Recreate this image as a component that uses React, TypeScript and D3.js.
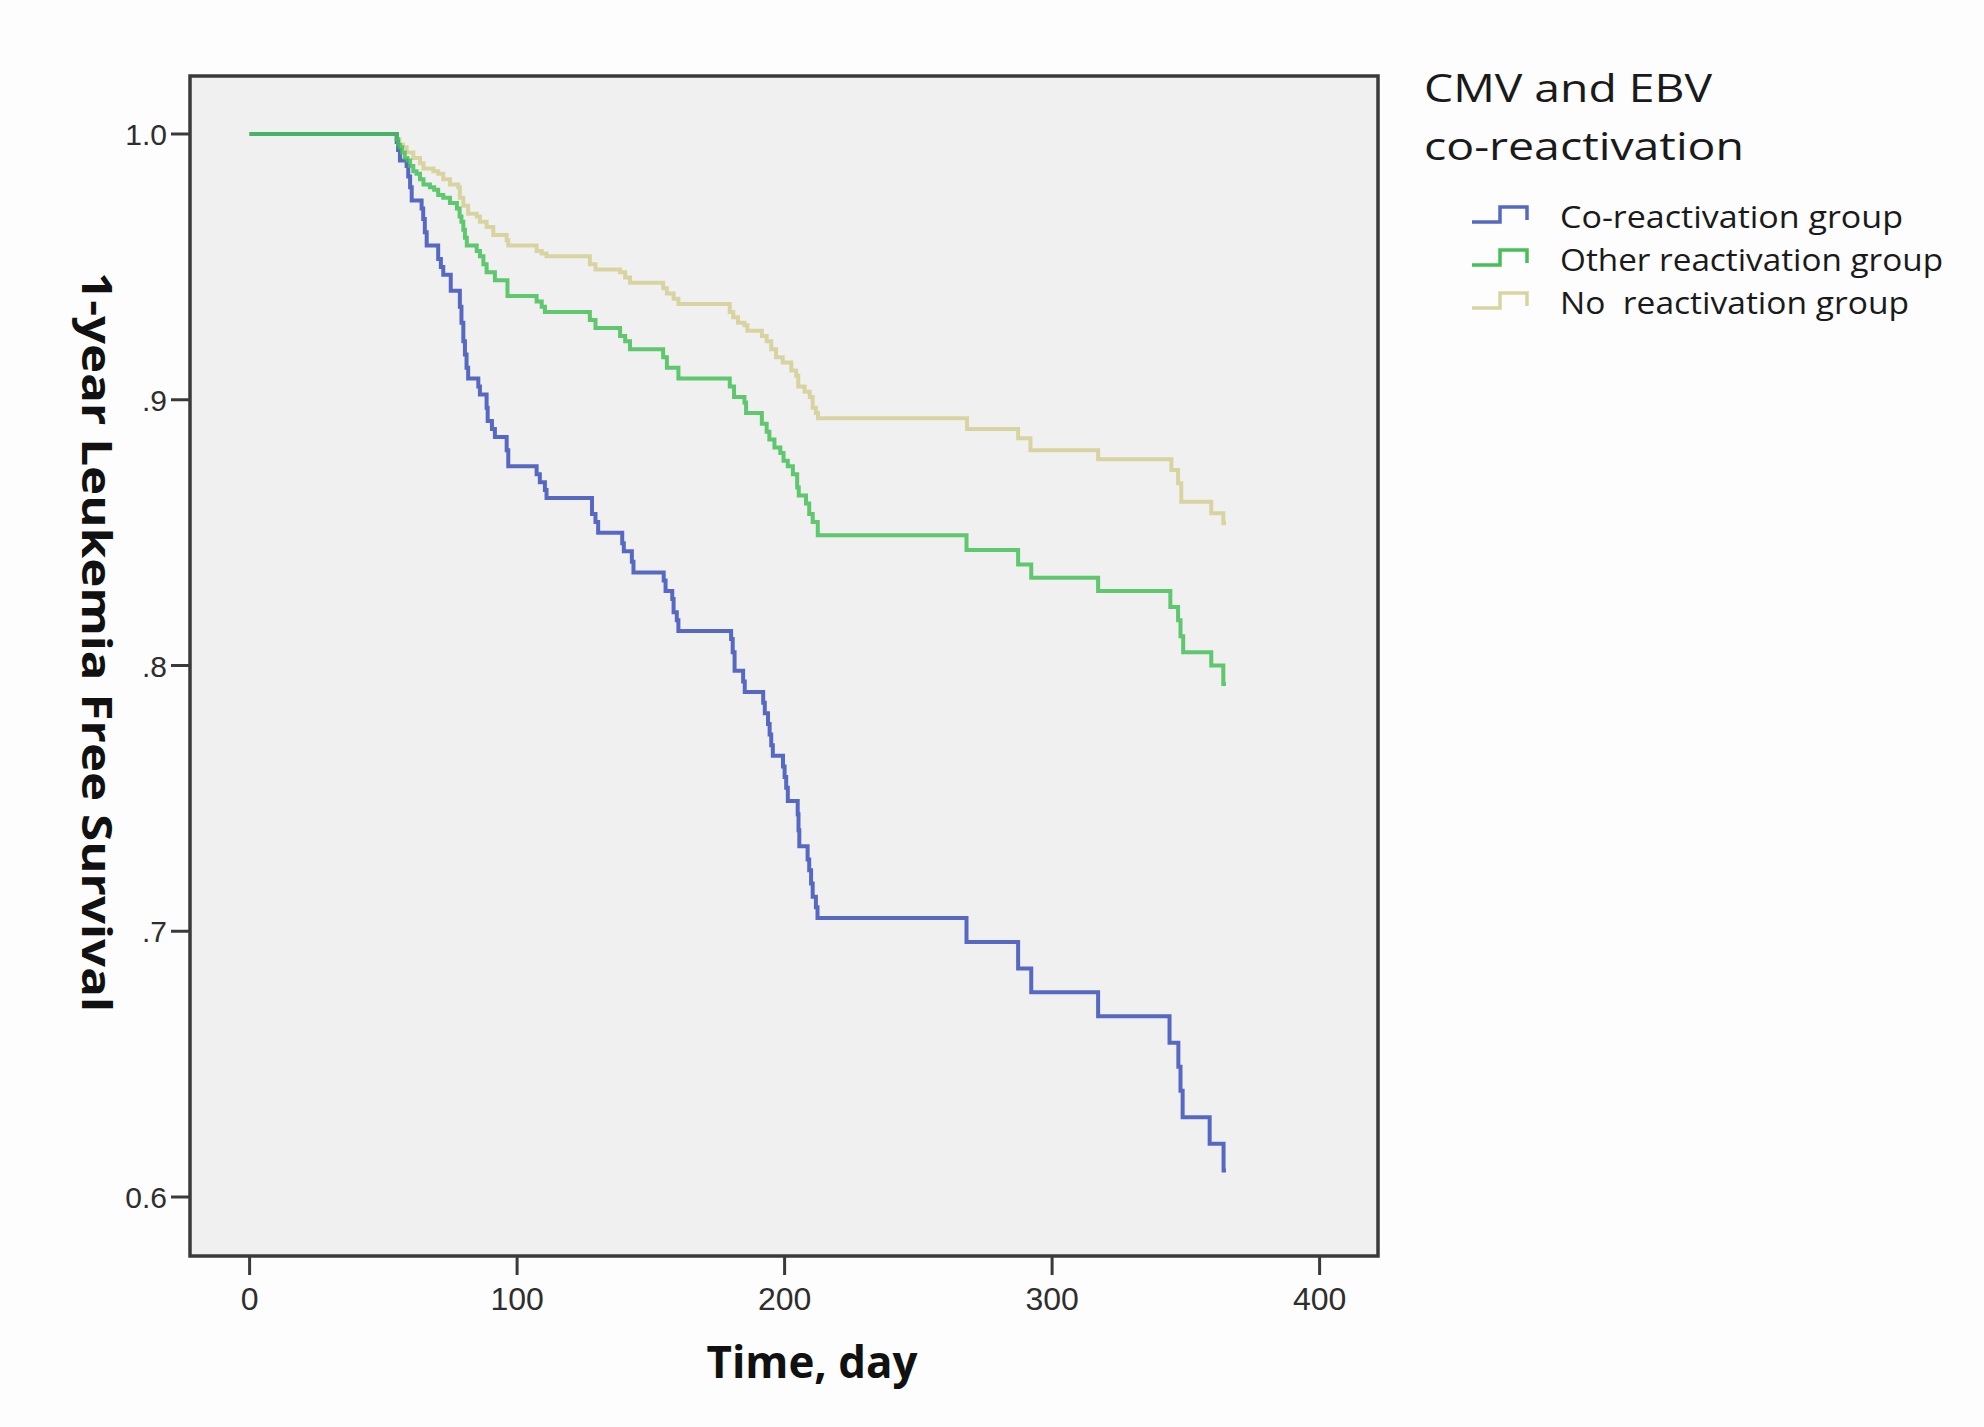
import { useEffect } from "react";
import * as d3 from "d3";

const WIDTH = 1984;
const HEIGHT = 1427;

const X_TICKS = [0, 100, 200, 300, 400];
const Y_TICKS = [0.6, 0.7, 0.8, 0.9, 1.0];
const Y_TICK_LABELS = ["0.6", ".7", ".8", ".9", "1.0"];

const LEGEND_TITLE = ["CMV and EBV", "co-reactivation"];
const GROUP_NAMES = ["Co-reactivation group", "Other reactivation group", "No  reactivation group"];
const GROUP_COLORS = ["#5668c2", "#45c056", "#d8d4a2"];

// [day, survival] after each step
const coReactivation: [number, number][] = [
  [0, 1], [55, 0.997], [55.5, 0.994], [56.2, 0.99], [58.7, 0.988], [59.3, 0.984], [60, 0.98],
  [60.6, 0.975], [64.3, 0.972], [64.9, 0.968], [65.5, 0.963], [66.2, 0.958], [70.5, 0.953],
  [71.5, 0.95], [72.4, 0.947], [75.2, 0.941], [78.6, 0.935], [79.2, 0.929], [79.9, 0.922],
  [80.5, 0.917], [81.1, 0.912], [81.7, 0.908], [85.5, 0.905], [86.1, 0.902], [88.6, 0.897],
  [89, 0.892], [90.6, 0.889], [91.7, 0.886], [96.1, 0.881], [96.7, 0.875], [107.3, 0.872],
  [108.5, 0.869], [110.4, 0.866], [111, 0.863], [128, 0.857], [129.3, 0.854], [130.3, 0.85],
  [139.3, 0.846], [139.9, 0.843], [142.9, 0.839], [143.5, 0.835], [154.8, 0.832], [155.5, 0.828],
  [158, 0.825], [158.5, 0.82], [159.7, 0.817], [160.3, 0.813], [180, 0.81], [180.6, 0.805],
  [181.3, 0.798], [184.5, 0.794], [185.1, 0.79], [192, 0.786], [192.6, 0.782], [193.8, 0.778],
  [194.4, 0.774], [195, 0.77], [195.6, 0.766], [199.4, 0.762], [200, 0.758], [200.6, 0.754],
  [201.2, 0.749], [204.9, 0.744], [205.2, 0.738], [205.5, 0.732], [208.6, 0.727], [209.2, 0.723],
  [209.9, 0.718], [210.5, 0.713], [211.7, 0.709], [212.3, 0.705], [268, 0.696], [287.3, 0.686],
  [292.2, 0.677], [317.2, 0.668], [343.9, 0.658], [347.2, 0.649], [348, 0.64], [348.8, 0.63],
  [358.9, 0.62], [364.1, 0.61], [365, 0.61],
];

const otherReactivation: [number, number][] = [
  [0, 1], [55, 0.998], [55.5, 0.996], [56.2, 0.995], [57, 0.993], [58, 0.991], [59, 0.99],
  [60, 0.988], [61.2, 0.986], [62.4, 0.985], [63.7, 0.983], [65, 0.981], [67.4, 0.98], [69, 0.979],
  [70.5, 0.977], [72.4, 0.976], [74.9, 0.974], [77.5, 0.972], [78.5, 0.969], [79.2, 0.967],
  [79.9, 0.964], [80.5, 0.961], [81.2, 0.958], [84.9, 0.956], [86.1, 0.954], [87.4, 0.951],
  [88.6, 0.948], [91.7, 0.945], [96.4, 0.939], [107.3, 0.937], [109.2, 0.935], [110.4, 0.933],
  [127.2, 0.93], [129.3, 0.927], [138.5, 0.924], [140.4, 0.922], [142.2, 0.919], [154.6, 0.916],
  [156, 0.912], [160.3, 0.908], [179.5, 0.905], [181.1, 0.901], [185, 0.899], [185.6, 0.895],
  [191.5, 0.891], [193.3, 0.888], [194.3, 0.885], [196.2, 0.882], [198.4, 0.88], [199.6, 0.877],
  [201.2, 0.875], [203.1, 0.872], [204.7, 0.867], [205.3, 0.864], [208, 0.861], [209.2, 0.857],
  [210.5, 0.854], [212.4, 0.849], [268, 0.8435], [287.3, 0.838], [292.2, 0.833], [317.2, 0.828],
  [344.2, 0.822], [347.1, 0.817], [348, 0.811], [349, 0.805], [359.5, 0.8], [364, 0.793],
  [365, 0.793],
];

const noReactivation: [number, number][] = [
  [0, 1], [55, 0.998], [56, 0.996], [57.4, 0.995], [58.7, 0.993], [61.2, 0.991], [63.7, 0.989],
  [65, 0.987], [68.7, 0.986], [70.5, 0.985], [72.4, 0.983], [74.9, 0.981], [78, 0.98], [78.6, 0.976],
  [79.9, 0.973], [81.7, 0.97], [84.9, 0.969], [86.1, 0.967], [88.6, 0.965], [91.1, 0.962],
  [96.1, 0.96], [96.7, 0.958], [107.3, 0.956], [109.2, 0.955], [111, 0.954], [127.2, 0.951],
  [129.3, 0.949], [138.5, 0.948], [140.4, 0.946], [142.2, 0.944], [154.6, 0.942], [156, 0.94],
  [158.5, 0.938], [160.3, 0.936], [179.5, 0.933], [180.8, 0.931], [182.6, 0.929], [185, 0.928],
  [186.1, 0.926], [191.5, 0.924], [193.3, 0.922], [195, 0.919], [196.8, 0.916], [199.3, 0.914],
  [202.5, 0.911], [204.3, 0.909], [205.1, 0.905], [207.5, 0.903], [209.4, 0.901], [210.5, 0.897],
  [211.7, 0.895], [212.5, 0.893], [268.2, 0.889], [287.3, 0.8855], [291.9, 0.881], [317.2, 0.8776],
  [344.6, 0.8736], [347.1, 0.8686], [348.3, 0.8616], [359.5, 0.8573], [364, 0.8535], [365, 0.8535],
];

const SERIES = [coReactivation, otherReactivation, noReactivation];
// drawing order: tan below, then blue, green on top
const DRAW_ORDER = [2, 0, 1];

const FRAME = { left: 190, right: 1378, top: 76, bottom: 1256 };

// the reference legend font is wider than what we have installed
const TITLE_WIDTHS = [288, 320];
const NAME_WIDTHS = [343, 383, 349];

export default function App() {
  useEffect(() => {
    document.body.style.margin = "0";
  }, []);

  const x = d3.scaleLinear().domain([0, 400]).range([249.6, 1319.6]);
  const y = d3.scaleLinear().domain([0.6, 1.0]).range([1197, 134]);

  const line = d3
    .line<[number, number]>()
    .x((d) => x(d[0]))
    .y((d) => y(d[1]))
    .curve(d3.curveStepAfter);

  const tickFont = "'Liberation Sans', Arial, sans-serif";
  const legendFont = "'Open Sans', 'Noto Sans', sans-serif";

  return (
    <svg width={WIDTH} height={HEIGHT} style={{ display: "block", background: "#fdfdfd" }}>
      <rect width={WIDTH} height={HEIGHT} fill="#fdfdfd" />

      {/* plot area */}
      <rect
        x={FRAME.left}
        y={FRAME.top}
        width={FRAME.right - FRAME.left}
        height={FRAME.bottom - FRAME.top}
        fill="#f0f0f0"
      />

      {/* curves */}
      {DRAW_ORDER.map((i) => (
        <path
          key={i}
          d={line(SERIES[i]) ?? ""}
          fill="none"
          stroke={GROUP_COLORS[i]}
          strokeWidth={4}
          strokeOpacity={i === 1 ? 0.85 : 1}
          strokeLinejoin="miter"
        />
      ))}

      {/* frame */}
      <rect
        x={FRAME.left}
        y={FRAME.top}
        width={FRAME.right - FRAME.left}
        height={FRAME.bottom - FRAME.top}
        fill="none"
        stroke="#3a3a3a"
        strokeWidth={3.5}
      />

      {/* x axis */}
      {X_TICKS.map((t) => (
        <g key={t}>
          <line x1={x(t)} x2={x(t)} y1={FRAME.bottom} y2={FRAME.bottom + 19} stroke="#3a3a3a" strokeWidth={3} />
          <text
            x={x(t)}
            y={FRAME.bottom + 54}
            textAnchor="middle"
            fontFamily={tickFont}
            fontSize={32}
            fill="#2e2e2e"
          >
            {t}
          </text>
        </g>
      ))}
      <text
        x={812}
        y={1378}
        textAnchor="middle"
        fontFamily={legendFont}
        fontWeight="bold"
        fontSize={44}
        fill="#111"
        textLength={211}
        lengthAdjust="spacingAndGlyphs"
      >
        Time, day
      </text>

      {/* y axis */}
      {Y_TICKS.map((v, i) => (
        <g key={v}>
          <line x1={FRAME.left - 19} x2={FRAME.left} y1={y(v)} y2={y(v)} stroke="#3a3a3a" strokeWidth={3} />
          <text
            x={FRAME.left - 23}
            y={y(v) + 11}
            textAnchor="end"
            fontFamily={tickFont}
            fontSize={30}
            fill="#2e2e2e"
          >
            {Y_TICK_LABELS[i]}
          </text>
        </g>
      ))}
      <text
        transform={`translate(82,642) rotate(90)`}
        textAnchor="middle"
        fontFamily={legendFont}
        fontWeight="bold"
        fontSize={42}
        fill="#111"
        textLength={740}
        lengthAdjust="spacingAndGlyphs"
      >
        1-year Leukemia Free Survival
      </text>

      {/* legend */}
      {LEGEND_TITLE.map((s, i) => (
        <text
          key={s}
          x={1424}
          y={102 + i * 58}
          fontFamily={legendFont}
          fontSize={39}
          fill="#1a1a1a"
          textLength={TITLE_WIDTHS[i]}
          lengthAdjust="spacingAndGlyphs"
        >
          {s}
        </text>
      ))}
      {GROUP_NAMES.map((name, i) => {
        const base = 228 + i * 43;
        const low = base - 6;
        const high = low - 15;
        const p = d3.path();
        p.moveTo(1472, low);
        p.lineTo(1500, low);
        p.lineTo(1500, high);
        p.lineTo(1527, high);
        p.lineTo(1527, low - 2);
        return (
          <g key={name}>
            <path d={p.toString()} fill="none" stroke={GROUP_COLORS[i]} strokeWidth={3.5} />
            <text
              x={1560}
              y={base}
              fontFamily={legendFont}
              fontSize={31}
              fill="#1a1a1a"
              textLength={NAME_WIDTHS[i]}
              lengthAdjust="spacingAndGlyphs"
              style={{ whiteSpace: "pre" }}
            >
              {name}
            </text>
          </g>
        );
      })}
    </svg>
  );
}
